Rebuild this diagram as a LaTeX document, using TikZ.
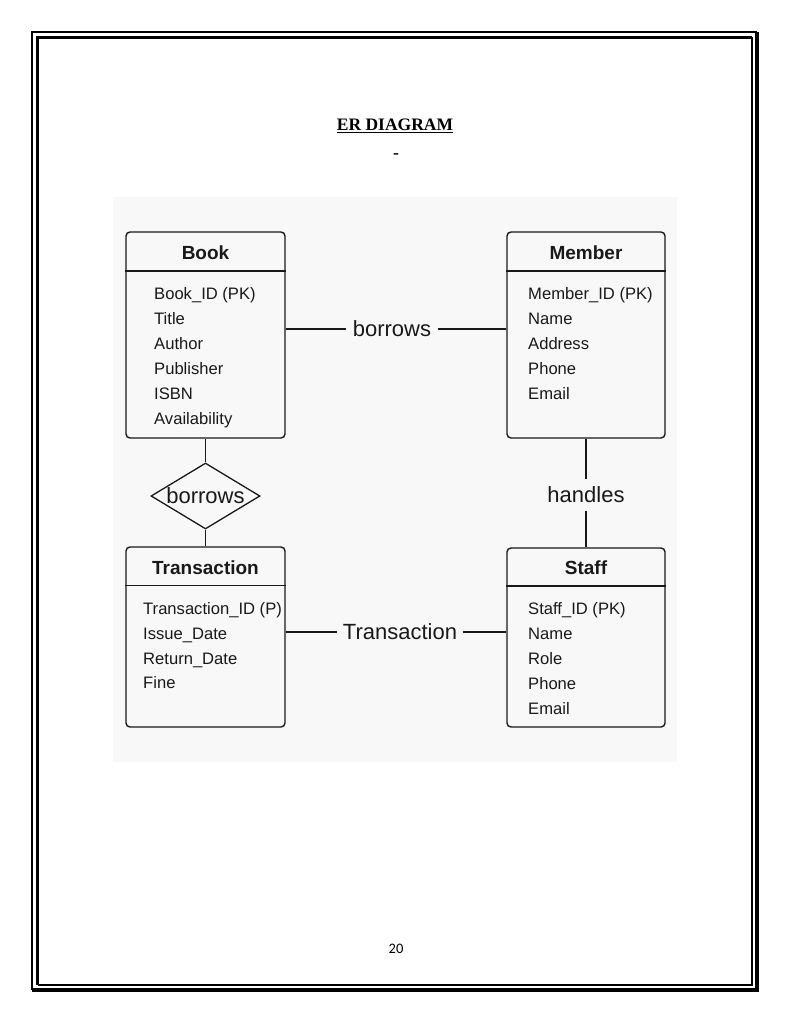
\documentclass[tikz,border=0pt]{standalone}
\usepackage{fontspec}
\setmainfont{Liberation Serif}
\newfontfamily\erfont{Liberation Sans}
\newfontfamily\pagefont{Carlito}
\usepackage{xcolor}
\usetikzlibrary{shapes.geometric}
\definecolor{bgrey}{RGB}{248,248,248}
\definecolor{ink}{RGB}{25,25,25}

\begin{document}
\begin{tikzpicture}[x=1pt,y=-1pt,
  entity/.style={draw=ink,line width=1.4pt,rounded corners=4pt,minimum width=159pt,inner sep=0pt},
  ename/.style={anchor=base,inner sep=0pt,text=ink,font=\erfont\bfseries\fontsize{19}{22}\selectfont},
  attr/.style={anchor=base west,inner sep=0pt,text=ink,font=\erfont\fontsize{16.6}{20}\selectfont},
  rel/.style={text=ink,inner xsep=7pt,inner ysep=7.5pt,font=\erfont\fontsize{22}{26}\selectfont},
  link/.style={draw=ink,line width=1.2pt}]
\useasboundingbox (0,0) rectangle (792,1024);

% page frame
\draw [line width=2pt] (757,32) -- (32,32) -- (32,990);
\draw [line width=4pt] (32,990) -- (757,990) -- (757,32);
\draw [line width=3pt] (752,37.5) -- (37.5,37.5) -- (37.5,985);
\draw [line width=1.2pt] (37.5,985) -- (752,985) -- (752,37.5);

\node [anchor=base,font=\bfseries\fontsize{17.5}{20}\selectfont] (title) at (395,131) {\underline{ER DIAGRAM}};
\node [anchor=base,font=\bfseries\fontsize{17.5}{20}\selectfont] (dash) at (396,159) {-};
\node [anchor=base,font=\pagefont\fontsize{14.5}{16}\selectfont] (pageno) at (396,953) {20};

% diagram
\fill [bgrey] (113,197) rectangle (677,762);

\node [entity,minimum height=206pt] (book) at (205.5,335) {};
\node [entity,minimum height=206pt,minimum width=158pt] (member) at (586,335) {};
\node [entity,minimum height=180pt] (trans) at (205.5,637) {};
\node [entity,minimum height=179pt,minimum width=158pt] (staff) at (586,637.5) {};

\draw [link,line width=1.4pt] ([yshift=-39.5pt]book.north west) -- ([yshift=-39.5pt]book.north east);
\draw [link,line width=1.4pt] ([yshift=-39.5pt]member.north west) -- ([yshift=-39.5pt]member.north east);
\draw [link,line width=1.4pt] ([yshift=-39pt]trans.north west) -- ([yshift=-39pt]trans.north east);
\draw [link,line width=1.4pt] ([yshift=-38.5pt]staff.north west) -- ([yshift=-38.5pt]staff.north east);

\node [ename] (bookname) at (205.5,259.5) {Book};
\node [ename] (membername) at (586,259.5) {Member};
\node [ename] (transname) at (205.5,574.5) {Transaction};
\node [ename] (staffname) at (586,574.5) {Staff};

\node [attr] (b1) at (154,299) {Book\_ID (PK)};
\node [attr] (b2) at (154,324) {Title};
\node [attr] (b3) at (154,349) {Author};
\node [attr] (b4) at (154,374) {Publisher};
\node [attr] (b5) at (154,399) {ISBN};
\node [attr] (b6) at (154,424) {Availability};

\node [attr] (m1) at (528,299) {Member\_ID (PK)};
\node [attr] (m2) at (528,324) {Name};
\node [attr] (m3) at (528,349) {Address};
\node [attr] (m4) at (528,374) {Phone};
\node [attr] (m5) at (528,399) {Email};

\node [attr] (t1) at (143,614) {Transaction\_ID (P)};
\node [attr] (t2) at (143,639) {Issue\_Date};
\node [attr] (t3) at (143,664) {Return\_Date};
\node [attr] (t4) at (143,688) {Fine};

\node [attr] (s1) at (528,614) {Staff\_ID (PK)};
\node [attr] (s2) at (528,639) {Name};
\node [attr] (s3) at (528,664) {Role};
\node [attr] (s4) at (528,689) {Phone};
\node [attr] (s5) at (528,714) {Email};

% relationships
\node [rel] (borrows) at (392,329) {borrows};
\draw [link] (book.east |- borrows) -- (borrows.west);
\draw [link] (borrows.east) -- (member.west |- borrows);

\node [diamond,draw=ink,line width=1.3pt,aspect=1.65,inner sep=0pt,minimum width=109pt,minimum height=66pt,
       text=ink,font=\erfont\fontsize{22}{26}\selectfont] (borrowsrel) at (205.5,496) {borrows};
\draw [link] (book.south) -- (borrowsrel.north);
\draw [link] (borrowsrel.south) -- (trans.north);

\node [rel] (handles) at (586,495) {handles};
\draw [link] (member.south) -- (handles.north);
\draw [link] (handles.south) -- (staff.north);

\node [rel,inner xsep=5.5pt] (transrel) at (400,632) {Transaction};
\draw [link] (trans.east |- transrel) -- (transrel.west);
\draw [link] (transrel.east) -- (staff.west |- transrel);

\end{tikzpicture}
\end{document}
